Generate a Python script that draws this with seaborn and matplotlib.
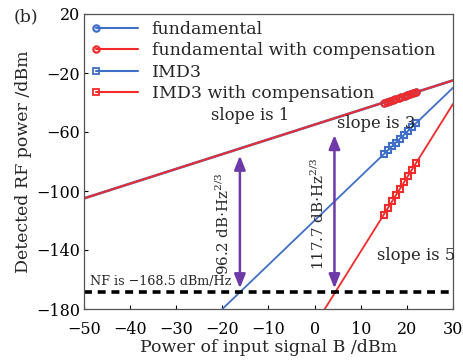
import numpy as np
import pandas as pd
import matplotlib
matplotlib.use("Agg")
import matplotlib.pyplot as plt
import seaborn as sns
from matplotlib.legend_handler import HandlerLine2D
from matplotlib.lines import Line2D

# Fitted lines (endpoints, dBm)
fund_line_x = [-50, 30]
fund_line_y = [-105, -25]
imd3_line_x = [-20, 30]
imd3_line_y = [-180, -30]
imd3c_line_x = [2.2, 30]
imd3c_line_y = [-180, -41]

# Measured points
fund_x = [15.0, 15.6, 16.3, 16.9, 17.5, 18.2, 18.8, 19.5, 20.1, 20.7, 21.4, 22.0]
fund_y = [-40.0, -39.4, -38.7, -38.1, -37.5, -36.8, -36.2, -35.5, -34.9, -34.3, -33.6, -33.0]
fundc_y = [-40.0, -39.4, -38.7, -38.1, -37.5, -36.8, -36.2, -35.5, -34.9, -34.3, -33.6, -33.0]
imd_x = [15.0, 15.9, 16.8, 17.6, 18.5, 19.4, 20.2, 21.1, 22.0]
imd3_y = [-75.0, -72.3, -69.6, -67.2, -64.5, -61.8, -59.4, -56.7, -54.0]
imd3c_y = [-116.0, -111.5, -107.0, -103.0, -98.5, -94.0, -90.0, -85.5, -81.0]

noise_floor = -168.5
sfdr_x = [-16.2, 4.3]
sfdr_top = [-76.0, -62.0]
sfdr_labels = ["96.2 dB$\\cdot$Hz$^{2/3}$", "117.7 dB$\\cdot$Hz$^{2/3}$"]

x_ticks = [-50, -40, -30, -20, -10, 0, 10, 20, 30]
y_ticks = [-180, -140, -100, -60, -20, 20]

BLUE = "#3f6fc6"
RED = "#f22a2a"
PURPLE = "#6e3aa8"

sns.set_theme(style="ticks")
plt.rcParams["font.family"] = ["DejaVu Serif"]
plt.rcParams["mathtext.fontset"] = "dejavuserif"
plt.rcParams["xtick.direction"] = "in"
plt.rcParams["ytick.direction"] = "in"

fig = plt.figure(figsize=(4.64, 3.6), dpi=100)
ax = fig.add_axes([84 / 464, 1 - 309 / 360, (453 - 84) / 464, (309 - 14) / 360])

fs = 12.5
tfs = 11.5

# fitted lines
sns.lineplot(x=fund_line_x, y=fund_line_y, ax=ax, color=BLUE, lw=1.9)
sns.lineplot(x=fund_line_x, y=fund_line_y, ax=ax, color=RED, lw=1.4)
sns.lineplot(x=imd3_line_x, y=imd3_line_y, ax=ax, color=BLUE, lw=1.3)
sns.lineplot(x=imd3c_line_x, y=imd3c_line_y, ax=ax, color=RED, lw=1.3)

# measured points
mk = dict(markerfacecolor="none", markersize=4.5, markeredgewidth=1.5, linestyle="none")
ax.plot(fund_x, fund_y, marker="o", color=BLUE, **mk)
ax.plot(fund_x, fundc_y, marker="o", color=RED, **mk)
ax.plot(imd_x, imd3_y, marker="s", color=BLUE, **mk)
ax.plot(imd_x, imd3c_y, marker="s", color=RED, **mk)

# noise floor
ax.axhline(noise_floor, color="black", lw=2.6, ls=(0, (2.2, 1.6)))
ax.text(-48.8, -161.5, "NF is \u2212168.5 dBm/Hz", fontsize=9.2, ha="left", va="center")

# SFDR arrows
for xa, top, lab, xl in zip(sfdr_x, sfdr_top, sfdr_labels, [-19.8, 0.9]):
    ax.annotate("", xy=(xa, top), xytext=(xa, noise_floor + 2.5),
                arrowprops=dict(arrowstyle="<|-|>,head_length=0.7,head_width=0.28",
                                color=PURPLE, lw=1.8, shrinkA=0, shrinkB=0))
    ax.text(xl, (top + noise_floor) / 2, lab, rotation=90, fontsize=10.8,
            ha="center", va="center")

ax.text(-13.9, -48.5, "slope is 1", fontsize=11.8, ha="center", va="center")
ax.text(13.3, -54.0, "slope is 3", fontsize=11.8, ha="center", va="center")
ax.text(22.0, -143.5, "slope is 5", fontsize=11.8, ha="center", va="center")

ax.set_xlim(-50, 30)
ax.set_ylim(-180, 20)
ax.set_xticks(x_ticks)
ax.set_yticks(y_ticks)
ax.tick_params(labelsize=tfs, length=3, width=0.8, colors="black")
ax.tick_params(axis="x", pad=9)
ax.tick_params(axis="y", pad=3)
for s in ax.spines.values():
    s.set_color("#555555")
    s.set_linewidth(0.9)
ax.set_xlabel("Power of input signal B /dBm", fontsize=fs, labelpad=0)
ax.set_ylabel("Detected RF power /dBm", fontsize=fs, labelpad=3)


class LeftMarker(HandlerLine2D):
    def create_artists(self, *args, **kwargs):
        arts = super().create_artists(*args, **kwargs)
        arts[0].set_markevery([0])
        return arts


handles = [
    Line2D([], [], color=BLUE, marker="o", markerfacecolor="none", markersize=4.5, markeredgewidth=1.6, lw=1.5),
    Line2D([], [], color=RED, marker="o", markerfacecolor="none", markersize=4.5, markeredgewidth=1.6, lw=1.5),
    Line2D([], [], color=BLUE, marker="s", markerfacecolor="none", markersize=4.5, markeredgewidth=1.3, lw=1.5),
    Line2D([], [], color=RED, marker="s", markerfacecolor="none", markersize=4.5, markeredgewidth=1.3, lw=1.5),
]
labels = ["fundamental", "fundamental with compensation", "IMD3", "IMD3 with compensation"]
hm = {h: LeftMarker(numpoints=2) for h in handles}
ax.legend(handles, labels, handler_map=hm, loc="upper left", frameon=False,
          fontsize=fs, handlelength=3.0, handletextpad=0.5, labelspacing=0.25,
          borderaxespad=0.1, borderpad=0.3)

fig.text(14 / 464, 1 - 17 / 360, "(b)", fontsize=fs, ha="left", va="center")

fig.savefig("out.png", dpi=100)
